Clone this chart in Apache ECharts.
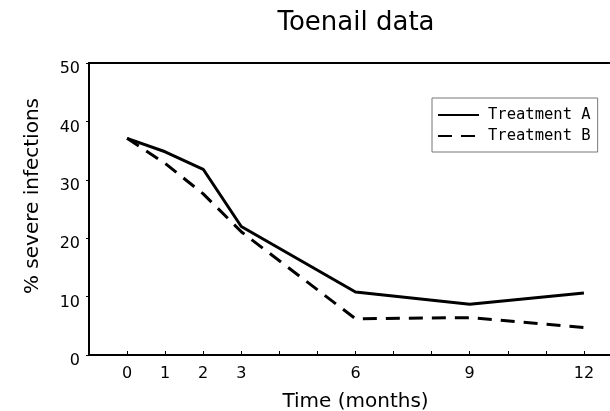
<!DOCTYPE html>
<html>
<head>
<meta charset="utf-8">
<script src="https://cdn.jsdelivr.net/npm/echarts@6/dist/echarts.min.js"></script>
<style>
  html, body { margin: 0; padding: 0; background: #fff; }
  #chart { width: 610px; height: 411px; }
</style>
</head>
<body>
<div id="chart"></div>
<script>
// months of follow-up
var months = [0, 1, 2, 3, 6, 9, 12];
// % severe infections
var treatmentA = [37.1, 34.8, 31.8, 22.0, 10.8, 8.7, 10.6];
var treatmentB = [37.1, 32.8, 27.6, 21.1, 6.2, 6.4, 4.7];
// tick labels on the time axis
var xLabels = [0, 1, 2, 3, 6, 9, 12];
var xTicks = [0, 1, 2, 3, 4, 5, 6, 7, 8, 9, 10, 11, 12];

var font = 'DejaVu Sans';

function pairs (xs, ys) {
  return xs.map(function (x, i) { return [x, ys[i]]; });
}

var myChart = echarts.init(document.getElementById('chart'));
var option = {
  backgroundColor: '#fff',
  animation: false,
  title: {
    text: 'Toenail data',
    left: 351,
    textAlign: 'center',
    top: 5,
    textStyle: { color: '#000', fontFamily: font, fontWeight: 'normal', fontSize: 26 }
  },
  legend: {
    orient: 'vertical',
    left: 432,
    top: 98,
    padding: [9, 7, 8, 5],
    itemGap: 5,
    itemWidth: 41,
    itemHeight: 14,
    borderColor: '#777',
    borderWidth: 1,
    itemStyle: { opacity: 0 },
    textStyle: { color: '#000', fontFamily: 'DejaVu Sans Mono', fontSize: 15.5, padding: [0, 0, 0, 4] },
    data: ['Treatment A', 'Treatment B']
  },
  grid: {
    left: 89,
    width: 533,
    top: 63,
    bottom: 56,
    show: true,
    borderColor: '#000',
    borderWidth: 2,
    outerBoundsMode: 'none',
    containLabel: false
  },
  xAxis: {
    type: 'value',
    min: -1,
    max: 13,
    interval: 1,
    name: 'Time (months)',
    nameLocation: 'middle',
    nameGap: 37,
    nameTextStyle: { color: '#000', fontFamily: font, fontSize: 20 },
    axisLine: { show: true, onZero: false, lineStyle: { color: '#000', width: 2 } },
    axisTick: { show: true, inside: true, length: 4, customValues: xTicks, lineStyle: { color: '#000', width: 1 } },
    axisLabel: { color: '#000', fontFamily: font, fontSize: 16, margin: 11, customValues: xLabels },
    splitLine: { show: false }
  },
  yAxis: {
    type: 'value',
    min: 0,
    max: 50,
    interval: 10,
    name: '% severe infections',
    nameLocation: 'middle',
    nameGap: 46,
    nameTextStyle: { color: '#000', fontFamily: font, fontSize: 20, padding: [0, 0, 0, 26] },
    axisLine: { show: true, onZero: false, lineStyle: { color: '#000', width: 2 } },
    axisTick: { show: true, length: 3, lineStyle: { color: '#000', width: 1 } },
    axisLabel: { color: '#000', fontFamily: font, fontSize: 16, margin: 9, verticalAlign: 'top', lineHeight: 12 },
    splitLine: { show: false }
  },
  series: [
    {
      name: 'Treatment A',
      type: 'line',
      symbol: 'none',
      data: pairs(months, treatmentA),
      lineStyle: { color: '#000', width: 3, type: 'solid' },
      itemStyle: { color: '#000' }
    },
    {
      name: 'Treatment B',
      type: 'line',
      symbol: 'none',
      data: pairs(months, treatmentB),
      lineStyle: { color: '#000', width: 3, type: [14, 9] },
      itemStyle: { color: '#000' }
    }
  ]
};
option && myChart.setOption(option);
</script>
</body>
</html>
